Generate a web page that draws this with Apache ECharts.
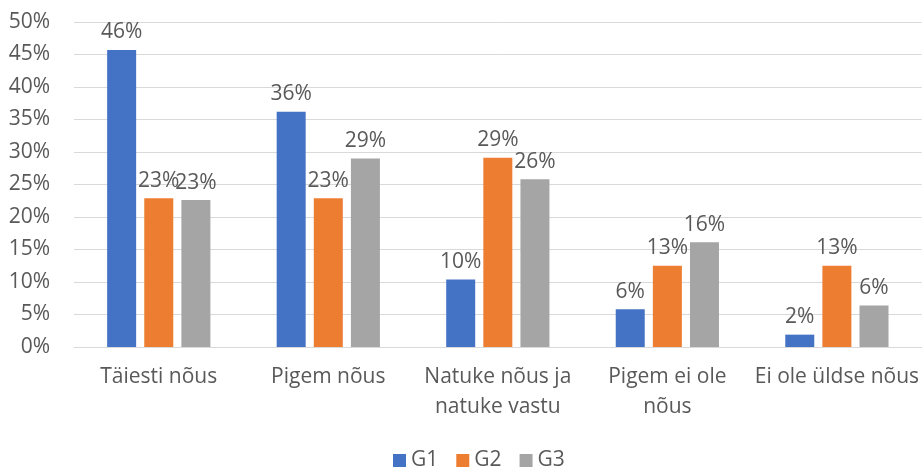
<!DOCTYPE html>
<html>
<head>
<meta charset="utf-8">
<script src="https://cdn.jsdelivr.net/npm/echarts@6/dist/echarts.min.js"></script>
<style>
  html, body { margin: 0; padding: 0; background: #fff; }
  #chart { width: 922px; height: 468px; }
</style>
</head>
<body>
<div id="chart"></div>
<script>
"use strict";

// andmed (protsentides)
const categories = ["Täiesti nõus", "Pigem nõus", "Natuke nõus ja\nnatuke vastu", "Pigem ei ole\nnõus", "Ei ole üldse nõus"];
const g1 = [45.7, 36.2, 10.4, 5.8, 1.9];
const g2 = [22.9, 22.9, 29.1, 12.5, 12.5];
const g3 = [22.6, 29.0, 25.8, 16.1, 6.4];

const FONT = "Open Sans";
const TEXT = "#595959";

function mkSeries(name, data, color) {
  return {
    name: name,
    type: "bar",
    data: data,
    barWidth: 29,
    barGap: "28%",
    itemStyle: { color: color },
    label: {
      show: true,
      position: "top",
      distance: 7,
      fontFamily: FONT,
      fontSize: 21,
      color: TEXT,
      formatter: p => Math.round(p.value) + "%"
    }
  };
}

const chart = echarts.init(document.getElementById("chart"), null, { renderer: "canvas" });

chart.setOption({
  backgroundColor: "#fff",
  animation: false,
  grid: { left: 74, right: 0, top: 22, bottom: 121 },
  legend: {
    top: 450,
    left: 393,
    padding: 0,
    icon: "rect",
    itemWidth: 13,
    itemHeight: 13,
    itemGap: 18,
    itemTextGap: 6,
    textStyle: { fontFamily: FONT, fontSize: 21, color: TEXT, lineHeight: 21 },
    data: ["G1", "G2", "G3"]
  },
  xAxis: {
    type: "category",
    data: categories,
    axisLine: { lineStyle: { color: "#D9D9D9" } },
    axisTick: { show: false },
    axisLabel: {
      margin: 15,
      fontFamily: FONT,
      fontSize: 21,
      lineHeight: 30,
      color: TEXT,
      interval: 0
    }
  },
  yAxis: {
    type: "value",
    min: 0,
    max: 50,
    interval: 5,
    axisLine: { show: false },
    axisTick: { show: false },
    splitLine: { lineStyle: { color: "#D9D9D9", width: 1 } },
    axisLabel: {
      margin: 24,
      fontFamily: FONT,
      fontSize: 21,
      color: TEXT,
      formatter: "{value}%"
    }
  },
  series: [
    mkSeries("G1", g1, "#4472C4"),
    mkSeries("G2", g2, "#ED7D31"),
    mkSeries("G3", g3, "#A5A5A5")
  ]
});
</script>
</body>
</html>
